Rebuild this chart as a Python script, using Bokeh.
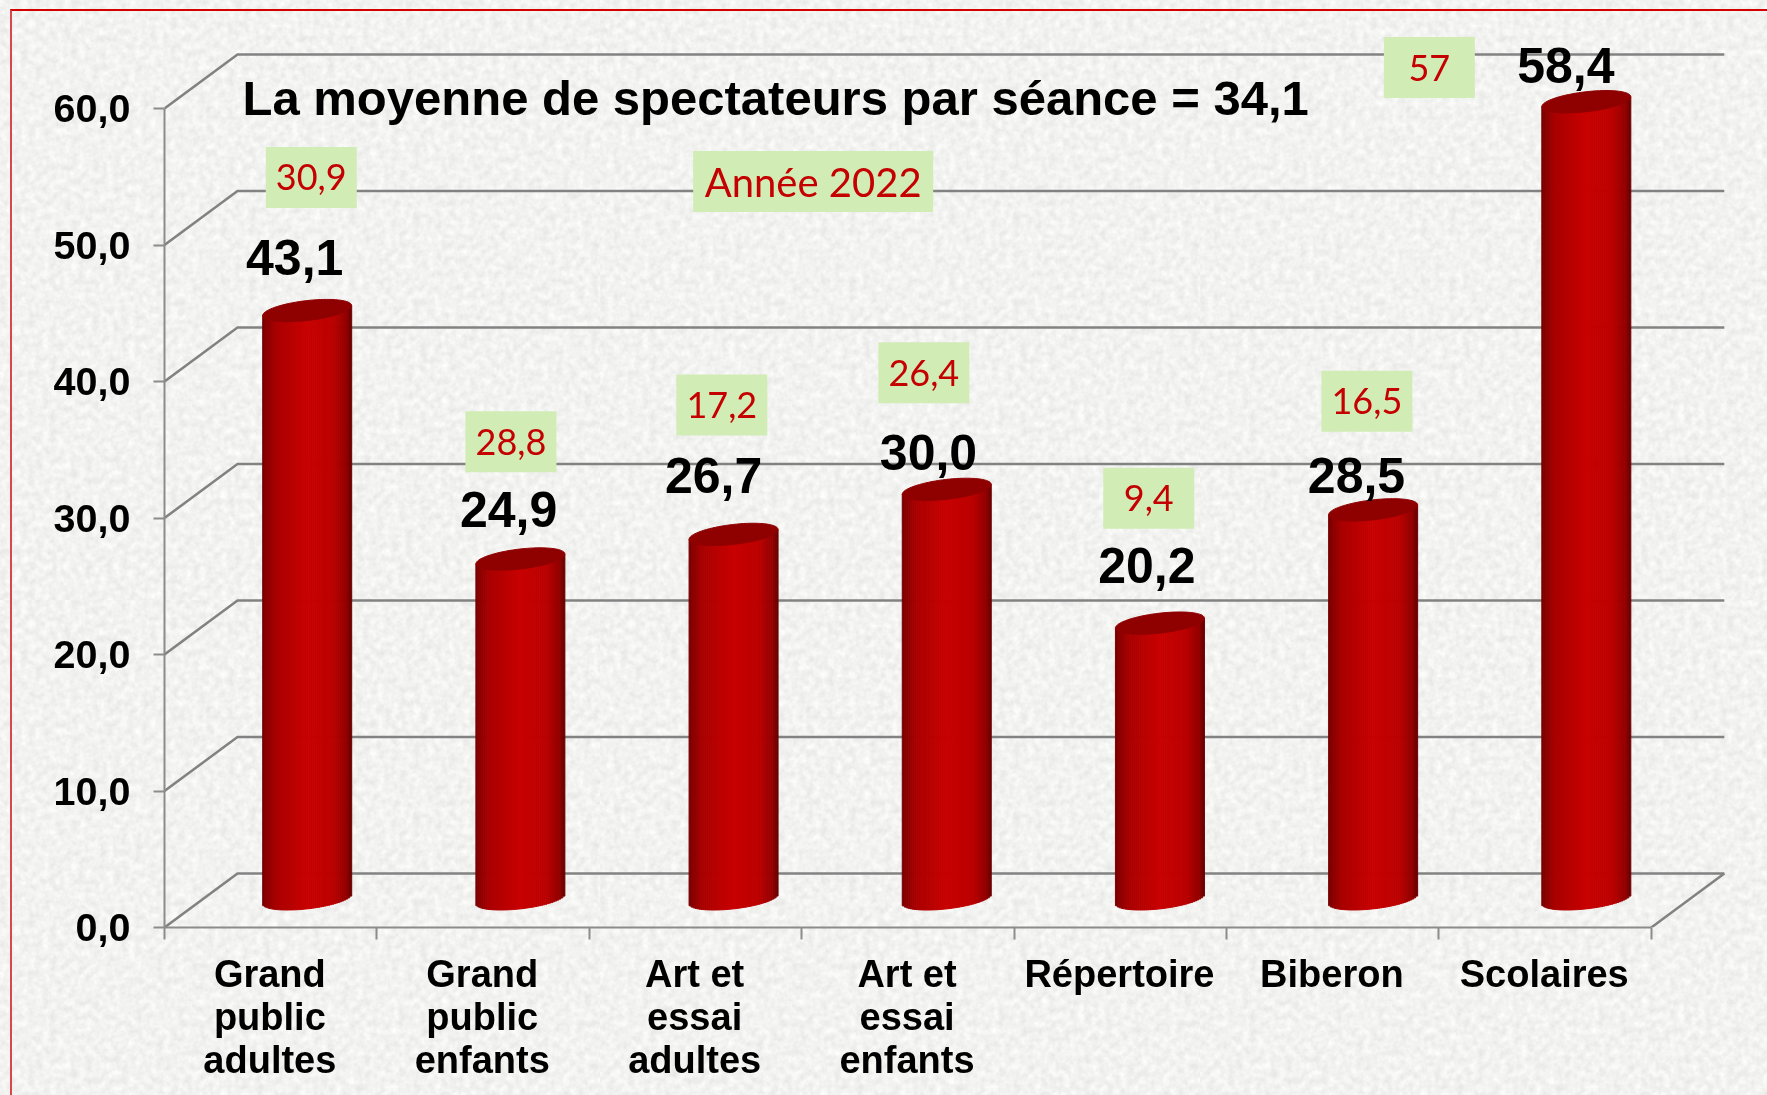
import urllib.parse
import numpy as np
from bokeh.plotting import figure
from bokeh.models import FixedTicker, Range1d
from bokeh.core.properties import value
from bokeh.embed import file_html
from bokeh.resources import INLINE

categories = ["Grand\npublic\nadultes", "Grand\npublic\nenfants", "Art et\nessai\nadultes",
              "Art et\nessai\nenfants", "Répertoire", "Biberon", "Scolaires"]
values = [43.1, 24.9, 26.7, 30.0, 20.2, 28.5, 58.4]
value_labels = ["43,1", "24,9", "26,7", "30,0", "20,2", "28,5", "58,4"]
previous_labels = ["30,9", "28,8", "17,2", "26,4", "9,4", "16,5", "57"]
y_ticks = [0, 10, 20, 30, 40, 50, 60]
y_tick_labels = ["0,0", "10,0", "20,0", "30,0", "40,0", "50,0", "60,0"]
title_text = "La moyenne de spectateurs par séance = 34,1"
year_text = "Année 2022"

# layout (annotations, in axis units)
label_x = [0.613, 1.620, 2.585, 3.597, 4.625, 5.612, 6.598]
label_y = [49.12, 30.65, 33.15, 34.82, 26.52, 33.1, 63.12]
box_x = [0.691, 1.631, 2.624, 3.575, 4.634, 5.661, 5.955]
box_y = [54.95, 35.58, 38.28, 40.65, 31.45, 38.55, 63.0]

W, H = 1767, 1095
LEFT, BOTTOM = 164, 168
UX, UY = 212.4, 13.65
DX, DY = 73 / UX, 54 / UY
SANS = "Liberation Sans"
THIN = "Lato"
BG = "#f4f4f2"
GRID = "#828282"
RED_T = "#c40000"

p = figure(width=W, height=H, output_backend="svg", toolbar_location=None,
           x_range=Range1d(0, (W - LEFT) / UX), y_range=Range1d(0, (H - BOTTOM) / UY),
           min_border_left=LEFT, min_border_bottom=BOTTOM, min_border_right=0, min_border_top=0,
           background_fill_alpha=0, border_fill_alpha=0, outline_line_color=None)
p.grid.visible = False

ya = p.yaxis[0]
ya.ticker = FixedTicker(ticks=y_ticks)
ya.major_label_overrides = {t: l for t, l in zip(y_ticks, y_tick_labels)}
ya.bounds = (0, 60)
ya.axis_line_color = "#8c8c8c"; ya.axis_line_width = 2
ya.major_tick_line_color = "#8c8c8c"; ya.major_tick_line_width = 2
ya.major_tick_out = 11; ya.major_tick_in = 0; ya.minor_tick_out = 0; ya.minor_tick_in = 0
ya.major_label_text_font = SANS; ya.major_label_text_font_style = "bold"
ya.major_label_text_font_size = "39.5px"; ya.major_label_text_color = "#000000"
ya.major_label_standoff = 23

xa = p.xaxis[0]
centers = [i + 0.496 for i in range(7)]
xa.ticker = FixedTicker(ticks=centers, minor_ticks=list(range(8)))
xa.major_label_overrides = {c: l for c, l in zip(centers, categories)}
xa.bounds = (0, 7)
xa.axis_line_color = "#8c8c8c"; xa.axis_line_width = 2
xa.major_tick_out = 0; xa.major_tick_in = 0
xa.minor_tick_out = 12; xa.minor_tick_in = 0
xa.minor_tick_line_color = "#8c8c8c"; xa.minor_tick_line_width = 2
xa.major_label_text_font = SANS; xa.major_label_text_font_style = "bold"
xa.major_label_text_font_size = "38px"; xa.major_label_text_color = "#000000"
xa.major_label_text_line_height = 1.03
xa.major_label_standoff = 13
xa.major_label_orientation = "horizontal"

for t in y_ticks:
    p.line([0, DX, 7 + DX], [t, t + DY, t + DY], line_color=GRID, line_width=2.5)
p.line([7 + DX, 7], [DY, 0], line_color=GRID, line_width=2.5)

stops_t = [0, .03, .15, .5, .8, .95, 1]
stops_r = [0x70, 0x84, 0xa8, 0xc8, 0xba, 0x90, 0x66]
A = 44.5 / UX; B = 10 / UY
SLOPE = (10 / 90) * (UX / UY)
N = 45
edges = np.linspace(-1, 1, N + 1)
mid = (edges[:-1] + edges[1:]) / 2
colors = ["#%02x0000" % int(round(np.interp((m + 1) / 2, stops_t, stops_r))) for m in mid]
for i, v in enumerate(values):
    cx = i + 0.5 + DX / 2 + 0.0037 * i
    bottom_c = DY / 2 + 0.12
    top_c = v + DY / 2 + 0.12
    xs = mid * A
    lower = bottom_c + SLOPE * xs - B * np.sqrt(1 - mid ** 2)
    upper = top_c + SLOPE * xs
    p.quad(left=cx + edges[:-1] * A, right=cx + edges[1:] * A, bottom=lower, top=upper,
           fill_color=colors, line_color=colors, line_width=1)
    th = np.linspace(0, 2 * np.pi, 80)
    ex = A * np.cos(th)
    ey = top_c + SLOPE * ex + B * np.sin(th)
    p.patch(cx + ex, ey, fill_color="#8f0000", line_color="#8f0000", line_width=1)

p.rect(x=box_x, y=box_y, width=91, height=61, width_units="screen", height_units="screen",
       fill_color="#d2ecb6", line_color=None)
p.text(x=box_x, y=box_y, text=previous_labels, text_color=RED_T, text_font=value(THIN),
       text_font_size="36px", text_align="center", text_baseline="middle")
p.rect(x=[3.054], y=[54.65], width=240, height=61, width_units="screen", height_units="screen",
       fill_color="#d2ecb6", line_color=None)
p.text(x=[3.054], y=[54.65], text=[year_text], text_color=RED_T, text_font=value(THIN),
       text_font_size="40px", text_align="center", text_baseline="middle")

p.text(x=label_x, y=label_y, text=value_labels, text_color="#000000", text_font=value(SANS),
       text_font_style="bold", text_font_size="50px", text_align="center", text_baseline="middle")

p.text(x=[(242 - 164) / UX], y=[(927 - 97.5) / UY], text=[title_text], text_color="#000000",
       text_font=value(SANS), text_font_style="bold", text_font_size="49px",
       text_align="left", text_baseline="middle")

# paper texture behind the transparent canvas, and the page frame (left and top edges)
svg = ("<svg xmlns='http://www.w3.org/2000/svg' width='600' height='600'>"
       "<filter id='n' color-interpolation-filters='sRGB'>"
       "<feTurbulence type='fractalNoise' baseFrequency='0.14' numOctaves='3' seed='4' stitchTiles='stitch'/>"
       "<feColorMatrix values='0.12 0 0 0 0.89 0.12 0 0 0 0.89 0.12 0 0 0 0.885 0 0 0 0 1'/>"
       "</filter><rect width='600' height='600' filter='url(#n)'/></svg>")
uri = "data:image/svg+xml," + urllib.parse.quote(svg)
frame = ('<div style="position:fixed;left:10px;top:9px;width:2000px;height:2000px;'
         'border-left:2px solid #d9474a;border-top:2px solid #d40000;pointer-events:none"></div>')
html = file_html(p, INLINE).replace("<body>", '<body style="background:%s url(&quot;%s&quot;)">%s' % (BG, uri, frame))
open("out.html", "w").write(html)
